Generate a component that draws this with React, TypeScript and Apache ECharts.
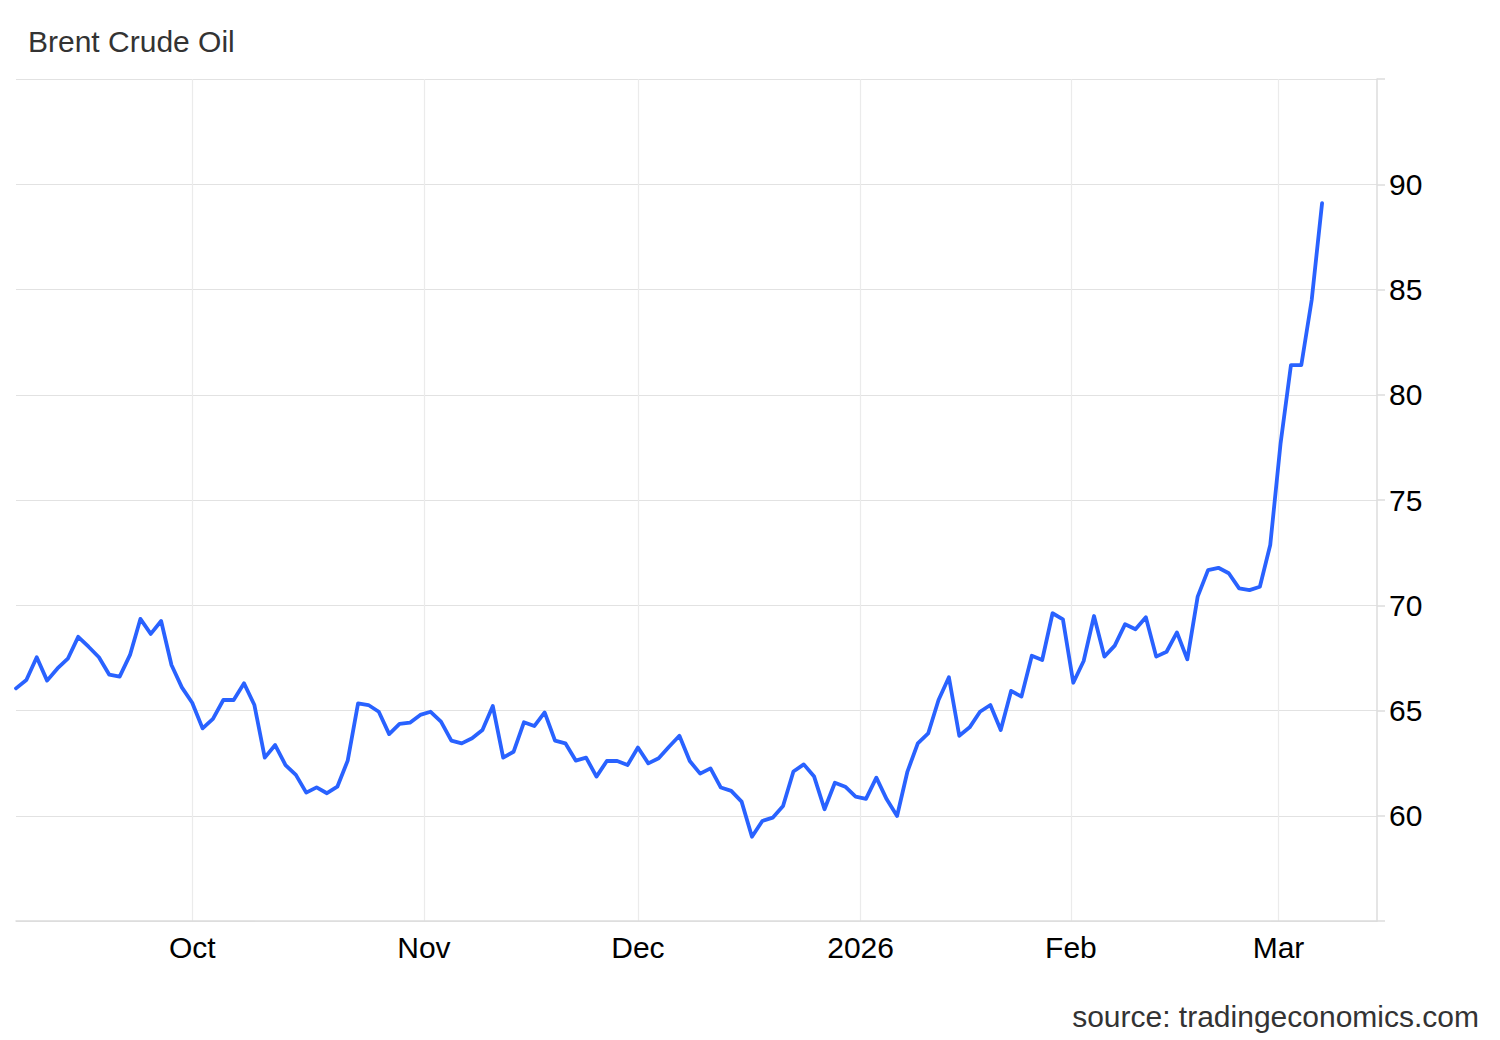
import React, { useEffect, useRef } from "react";
import * as echarts from "echarts";

// Brent crude daily closes (trading-day index 0 = Sep 8, 2025)
const prices: number[] = [
  66.05, 66.45, 67.53, 66.42, 67.0, 67.46, 68.5, 68.03, 67.53, 66.7,
  66.61, 67.64, 69.35, 68.64, 69.25, 67.16, 66.1, 65.37, 64.15, 64.6,
  65.5, 65.5, 66.29, 65.26, 62.76, 63.36, 62.41, 61.94, 61.1, 61.35,
  61.07, 61.38, 62.62, 65.34, 65.26, 64.94, 63.88, 64.36, 64.42, 64.79,
  64.94, 64.47, 63.57, 63.44, 63.68, 64.07, 65.21, 62.76, 63.04, 64.44,
  64.26, 64.91, 63.57, 63.44, 62.62, 62.76, 61.86, 62.6, 62.6, 62.41,
  63.24, 62.49, 62.73, 63.28, 63.8, 62.6, 62.0, 62.25, 61.34, 61.18,
  60.67, 59.0, 59.75, 59.91, 60.46, 62.1, 62.44, 61.86, 60.31, 61.57,
  61.38, 60.91, 60.8, 61.81, 60.78, 59.99, 62.1, 63.44, 63.91, 65.5,
  66.58, 63.8, 64.2, 64.94, 65.26, 64.07, 65.93, 65.66, 67.6, 67.4,
  69.62, 69.33, 66.32, 67.35, 69.49, 67.56, 68.08, 69.1, 68.86, 69.43,
  67.56, 67.79, 68.71, 67.43, 70.41, 71.67, 71.78, 71.52, 70.8, 70.72,
  70.88, 72.86, 77.7, 81.41, 81.41, 84.5, 89.1,
];

// Month boundaries on the trading-day scale
const monthTickPositions: number[] = [17, 39.35, 60, 81.48, 101.77, 121.8];
const monthTickLabels: string[] = ["Oct", "Nov", "Dec", "2026", "Feb", "Mar"];

const yTickLabels: number[] = [60, 65, 70, 75, 80, 85, 90];

const TITLE = "Brent Crude Oil";
const SOURCE = "source: tradingeconomics.com";

const FONT = "Liberation Sans, Arial, Helvetica, sans-serif";

export default function App() {
  const ref = useRef<HTMLDivElement>(null);

  useEffect(() => {
    if (!ref.current) return;
    const chart = echarts.init(ref.current, undefined, { renderer: "svg" });
    chart.setOption({
      animation: false,
      backgroundColor: "#ffffff",
      textStyle: { fontFamily: FONT },
      grid: { left: 16, right: 123, top: 79, bottom: 119, containLabel: false },
      graphic: [
        {
          type: "text",
          x: 28,
          y: 41,
          style: {
            text: TITLE,
            font: `30px ${FONT}`,
            fill: "#333333",
            textAlign: "left",
            textVerticalAlign: "middle",
          },
        },
        {
          type: "text",
          x: 1479,
          y: 1016,
          style: {
            text: SOURCE,
            font: `30px ${FONT}`,
            fill: "#333333",
            textAlign: "right",
            textVerticalAlign: "middle",
          },
        },
      ],
      xAxis: {
        type: "value",
        min: 0,
        max: 131.3,
        axisLine: { show: true, onZero: false, lineStyle: { color: "#dcdcdc", width: 1.5 } },
        axisTick: { show: false, customValues: monthTickPositions },
        axisLabel: {
          customValues: monthTickPositions,
          color: "#000000",
          fontSize: 30,
          fontFamily: FONT,
          margin: 11,
          formatter: (v: number) => {
            const i = monthTickPositions.findIndex((p) => Math.abs(p - v) < 0.01);
            return i >= 0 ? monthTickLabels[i] : "";
          },
        },
        splitLine: { show: true, lineStyle: { color: "#ebebeb", width: 1.2 } },
      },
      yAxis: {
        type: "value",
        position: "right",
        min: 55,
        max: 95,
        interval: 5,
        axisLine: { show: true, onZero: false, lineStyle: { color: "#dcdcdc", width: 1.5 } },
        axisTick: { show: true, inside: false, length: 8, lineStyle: { color: "#dcdcdc", width: 1.5 } },
        axisLabel: {
          color: "#000000",
          fontSize: 30,
          fontFamily: FONT,
          margin: 12,
          formatter: (v: number) => (yTickLabels.indexOf(v) >= 0 ? String(v) : ""),
        },
        splitLine: { show: true, lineStyle: { color: "#e2e2e2", width: 1.2 } },
      },
      series: [
        {
          type: "line",
          name: TITLE,
          data: prices.map((p, i) => [i, p]),
          showSymbol: false,
          symbol: "none",
          smooth: false,
          lineStyle: { color: "#2962ff", width: 3.8, join: "round", cap: "round" },
          itemStyle: { color: "#2962ff" },
        },
      ],
    });
    return () => chart.dispose();
  }, []);

  return (
    <div
      ref={ref}
      style={{ position: "absolute", left: 0, top: 0, width: 1500, height: 1040 }}
    />
  );
}
